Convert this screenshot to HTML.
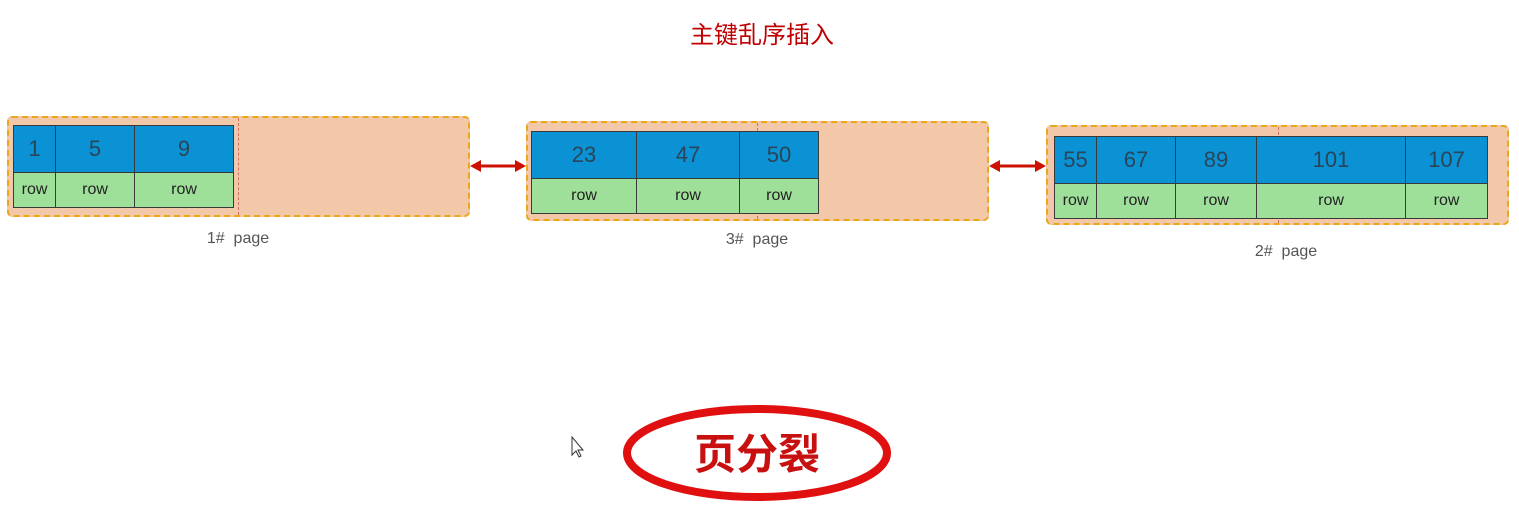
<!DOCTYPE html>
<html><head><meta charset="utf-8"><style>
body{margin:0;width:1519px;height:506px;background:#fff;position:relative;overflow:hidden;font-family:"Liberation Sans","Noto Sans CJK SC",sans-serif}
.a{position:absolute;box-sizing:border-box}
.box{background:#f2c8a8;border:2px dashed #e8a818;border-radius:5px}
.c{position:absolute;box-sizing:border-box;border:1px solid #3a3a3a;display:flex;align-items:center;justify-content:center;color:#333}
.k{background:#0a92d4;font-size:22px;color:#2a4458}
.r{background:#9ee09a;font-size:16px;color:#222}
.lbl{position:absolute;font-size:16px;color:#555;transform:translateX(-50%)}
.div{position:absolute;border-left:1px dashed #d07060}
</style></head><body>
<div class="a" style="left:0;width:1519px;top:15px;text-align:center;font-size:24px;color:#c00000;padding-left:5px">主键乱序插入</div>

<div class="a box" style="left:7px;top:116px;width:463px;height:101px"></div>
<div class="div" style="left:238px;top:118px;height:97px"></div>
<div class="c k" style="left:13px;top:125px;width:43px;height:48px">1</div>
<div class="c k" style="left:55px;top:125px;width:80px;height:48px">5</div>
<div class="c k" style="left:134px;top:125px;width:100px;height:48px">9</div>
<div class="c r" style="left:13px;top:172px;width:43px;height:36px">row</div>
<div class="c r" style="left:55px;top:172px;width:80px;height:36px">row</div>
<div class="c r" style="left:134px;top:172px;width:100px;height:36px">row</div>
<div class="lbl" style="left:238px;top:230px">1#&nbsp; page</div>

<div class="a box" style="left:526px;top:121px;width:463px;height:100px"></div>
<div class="div" style="left:757px;top:123px;height:96px"></div>
<div class="c k" style="left:531px;top:131px;width:106px;height:48px">23</div>
<div class="c k" style="left:636px;top:131px;width:104px;height:48px">47</div>
<div class="c k" style="left:739px;top:131px;width:80px;height:48px">50</div>
<div class="c r" style="left:531px;top:178px;width:106px;height:36px">row</div>
<div class="c r" style="left:636px;top:178px;width:104px;height:36px">row</div>
<div class="c r" style="left:739px;top:178px;width:80px;height:36px">row</div>
<div class="lbl" style="left:757px;top:231px">3#&nbsp; page</div>

<div class="a box" style="left:1046px;top:125px;width:463px;height:100px"></div>
<div class="div" style="left:1278px;top:127px;height:96px"></div>
<div class="c k" style="left:1054px;top:136px;width:43px;height:48px">55</div>
<div class="c k" style="left:1096px;top:136px;width:80px;height:48px">67</div>
<div class="c k" style="left:1175px;top:136px;width:82px;height:48px">89</div>
<div class="c k" style="left:1256px;top:136px;width:150px;height:48px">101</div>
<div class="c k" style="left:1405px;top:136px;width:83px;height:48px">107</div>
<div class="c r" style="left:1054px;top:183px;width:43px;height:36px">row</div>
<div class="c r" style="left:1096px;top:183px;width:80px;height:36px">row</div>
<div class="c r" style="left:1175px;top:183px;width:82px;height:36px">row</div>
<div class="c r" style="left:1256px;top:183px;width:150px;height:36px">row</div>
<div class="c r" style="left:1405px;top:183px;width:83px;height:36px">row</div>
<div class="lbl" style="left:1286px;top:243px">2#&nbsp; page</div>

<svg class="a" style="left:0;top:0" width="1519" height="506">
<g fill="#cc1100" stroke="#cc1100">
<line x1="478" y1="166" x2="518" y2="166" stroke-width="3"/>
<polygon points="470,166 481,160 481,172" stroke="none"/>
<polygon points="526,166 515,160 515,172" stroke="none"/>
<line x1="997" y1="166" x2="1038" y2="166" stroke-width="3"/>
<polygon points="989,166 1000,160 1000,172" stroke="none"/>
<polygon points="1046,166 1035,160 1035,172" stroke="none"/>
</g>
<ellipse cx="757" cy="453" rx="130" ry="44" fill="none" stroke="#e01010" stroke-width="8"/>
<polygon points="572,437 572,455 576,451 579,457 581,456 578,450 583,450" fill="#fff" stroke="#333" stroke-width="1"/>
</svg>
<div class="a" style="left:627px;top:424px;width:260px;text-align:center;font-size:42px;font-weight:bold;color:#c81010;font-family:'Noto Sans CJK SC',sans-serif;line-height:56px">页分裂</div>
</body></html>
